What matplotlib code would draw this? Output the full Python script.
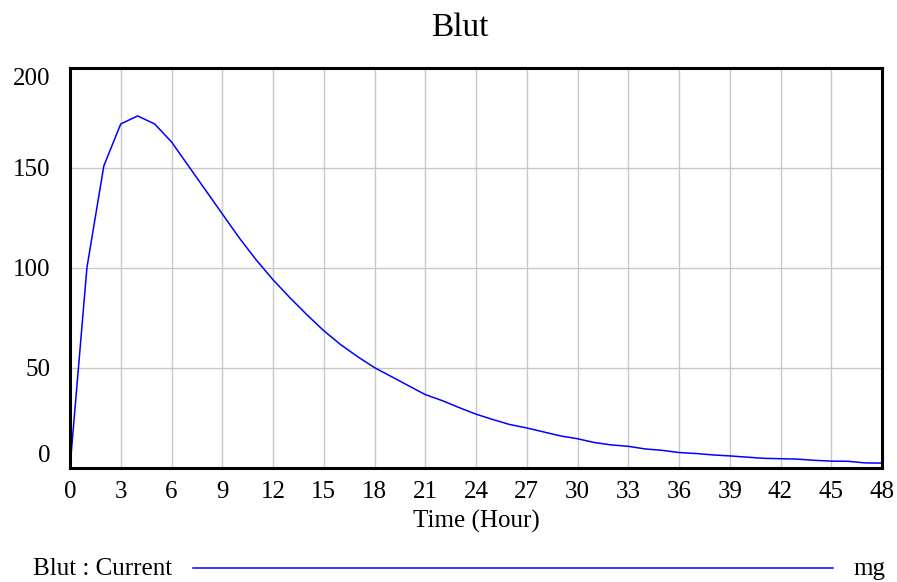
import matplotlib.pyplot as plt
from matplotlib.lines import Line2D

plt.rcParams['font.family'] = ['Liberation Serif', 'DejaVu Serif']

# Blut (mg) par heure
hours = list(range(49))
blut = [0, 100, 151, 172, 176, 172, 163, 151, 139, 127,
        115, 104, 94, 85, 76.5, 68.5, 61.5, 55.5, 50, 45.5,
        41, 36.5, 33.5, 30, 26.7, 24, 21.5, 19.8, 17.8, 15.8,
        14.4, 12.5, 11.3, 10.6, 9.3, 8.6, 7.5, 7.0, 6.3, 5.8,
        5.2, 4.6, 4.4, 4.2, 3.6, 3.2, 3.1, 2.3, 2.2]

x_ticks = list(range(0, 49, 3))
y_ticks = [0, 50, 100, 150, 200]

fig = plt.figure(figsize=(8.97, 5.82), dpi=100)
ax = fig.add_axes([70 / 897, 1 - 467.5 / 582, 812 / 897, 399.5 / 582])

ax.plot(hours, blut, color='#0000ff', lw=1.1)

ax.set_xlim(0, 48)
ax.set_ylim(0, 200)
ax.set_xticks(x_ticks)
ax.set_yticks(y_ticks)
ax.grid(True, color='#c8c8c8', lw=1.0)
ax.tick_params(length=0, labelsize=18)
ax.tick_params(axis='y', pad=14)
ax.tick_params(axis='x', pad=10)
for s in ax.spines.values():
    s.set_linewidth(2.2)
    s.set_color('black')

# les labels 0 et 200 sont décalés vers l'intérieur
ylabels = ax.get_yticklabels()
ylabels[0].set_va('bottom')
ylabels[-1].set_va('top')

ax.set_xlabel('Time (Hour)', fontsize=18, labelpad=5)
fig.text(460 / 897, 1 - 28 / 582, 'Blut', fontsize=24, ha='center', va='center')

# légende façon Vensim
fig.text(33 / 897, 1 - 569 / 582, 'Blut : Current', fontsize=18, va='center', ha='left')
fig.add_artist(Line2D([193 / 897, 833 / 897], [1 - 568 / 582, 1 - 568 / 582],
                      color='#0000ff', lw=1.1, transform=fig.transFigure))
fig.text(885 / 897, 1 - 569 / 582, 'mg', fontsize=18, va='center', ha='right')

fig.savefig('out.png', dpi=100)
